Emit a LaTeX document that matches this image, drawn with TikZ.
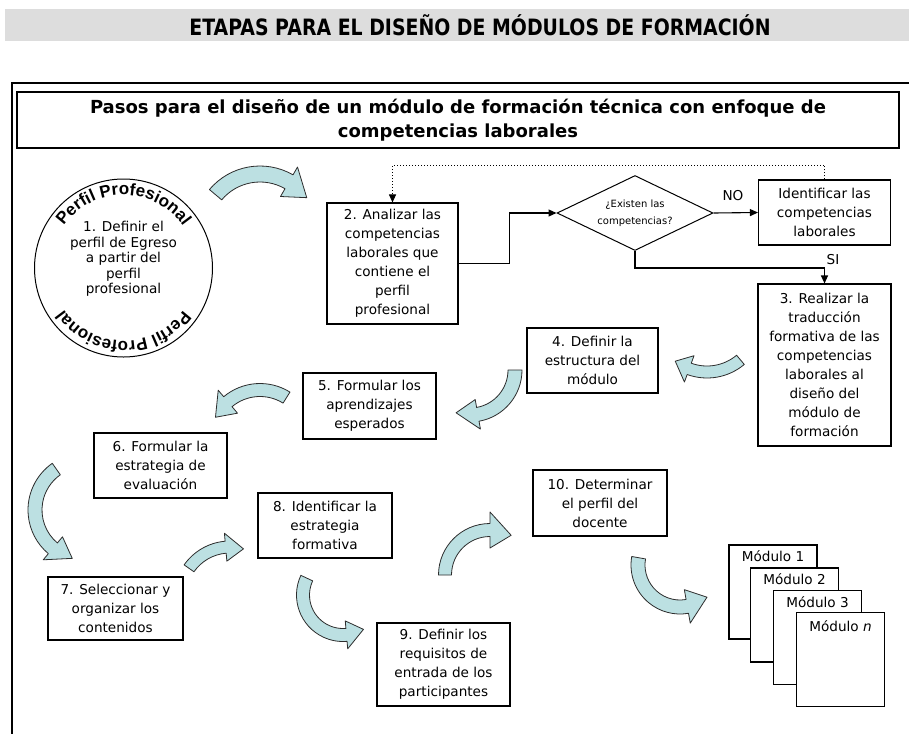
\documentclass[tikz,border=0pt]{standalone}
\usepackage{fontspec}
\setmainfont{DejaVu Sans}
\newfontfamily\arcfont{Liberation Sans}
\usetikzlibrary{shapes.geometric,arrows.meta,decorations.text,calc}
\definecolor{arrowfill}{RGB}{188,224,226}
\definecolor{titlegray}{RGB}{221,221,221}
\definecolor{edgegray}{RGB}{45,45,45}
\newcommand\blockarrow[8]{%
  \pgfmathsetmacro\BAro{#3+#6/2}%
  \pgfmathsetmacro\BAri{#3-#6/2}%
  \pgfmathsetmacro\BAho{#3+#7/2}%
  \pgfmathsetmacro\BAhi{#3-#7/2}%
  \pgfmathsetmacro\BAtip{#5+(2*(#5>#4)-1)*#8/#3*57.2958}%
  \draw[barrow] ($(#1,#2)+(#4:\BAro)$) arc[start angle=#4,end angle=#5,radius=\BAro]
     -- ($(#1,#2)+(#5:\BAho)$) -- ($(#1,#2)+(\BAtip:#3)$) -- ($(#1,#2)+(#5:\BAhi)$)
     -- ($(#1,#2)+(#5:\BAri)$) arc[start angle=#5,end angle=#4,radius=\BAri] -- cycle;}
\begin{document}
\begin{tikzpicture}[x=1pt,y=-1pt,
  stepbox/.style={draw=black, line width=1.1pt, align=center, inner sep=2pt, fill=white,
     font=\fontsize{13.6}{19}\selectfont},
  modbox/.style={draw=black, line width=1.1pt, fill=white, minimum width=88pt, minimum height=94pt, inner sep=0pt},
  modlbl/.style={font=\fontsize{13.6}{16}\selectfont, inner sep=0pt},
  barrow/.style={fill=arrowfill, draw=edgegray, line width=0.8pt, line join=round},
  conn/.style={line width=1.1pt, -{Triangle[length=8pt,width=7pt]}},
  dotconn/.style={line width=1pt, dash pattern=on 1pt off 2pt, -{Triangle[length=8pt,width=7pt]}},
  lbl/.style={font=\fontsize{13.6}{16}\selectfont, inner sep=0pt}]
\useasboundingbox (0,0) rectangle (909,734);
\fill[white] (0,0) rectangle (909,734);
% title band
\fill[titlegray] (5,9) rectangle (909,41);
\node (title) at (480,25) {\scalebox{0.84}[1]{\fontsize{22.5}{26}\selectfont\bfseries ETAPAS PARA EL DISEÑO DE MÓDULOS DE FORMACIÓN}};
% outer frame
\draw[line width=1.1pt] (909,83) -- (12,83) -- (12,734);
% subtitle box
\node[draw=black, line width=1.1pt, minimum width=882pt, minimum height=56pt, align=center,
  font=\bfseries\fontsize{18}{24}\selectfont] (sub) at (458,120)
  {Pasos para el diseño de un módulo de formación técnica con enfoque de\\competencias laborales};
% circle 1
\node[draw=black, line width=1pt, circle, minimum size=178pt, inner sep=0pt] (c1) at (123.5,268) {};
\node[align=center, font=\fontsize{13.6}{15.5}\selectfont, inner sep=0pt] (t1) at (123.5,259)
  {1. Definir el\\perfil de Egreso\\a partir del\\perfil\\profesional};
\path[decorate, decoration={text along path, text align=center,
   text={|\arcfont\bfseries\fontsize{17}{17}\selectfont|Perfil Profesional}}]
   ($(c1.center)+(195:73)$) arc[start angle=195, end angle=345, radius=73];
\path[decorate, decoration={text along path, text align=center,
   text={|\arcfont\bfseries\fontsize{17}{17}\selectfont|Perfil Profesional}}]
   ($(c1.center)+(15:73)$) arc[start angle=15, end angle=165, radius=73];
% boxes
\node[stepbox, minimum width=131pt, minimum height=121pt] (b2) at (392.5,263.5)
  {2. Analizar las\\competencias\\laborales que\\contiene el\\perfil\\profesional};
\node[draw=black, line width=1pt, diamond, aspect=2.08, minimum width=156pt, minimum height=75pt,
  inner sep=0pt, align=center, font=\fontsize{10}{17}\selectfont] (dq) at (635,213)
  {¿Existen las\\competencias?};
\node[stepbox, minimum width=132pt, minimum height=65pt] (idf) at (824.5,212.5)
  {Identificar las\\competencias\\laborales};
\node[stepbox, minimum width=133pt, minimum height=162pt] (b3) at (824.5,365)
  {3. Realizar la\\traducción\\formativa de las\\competencias\\laborales al\\diseño del\\módulo de\\formación};
\node[stepbox, minimum width=131pt, minimum height=65pt] (b4) at (592.5,360.5)
  {4. Definir la\\estructura del\\módulo};
\node[stepbox, minimum width=133pt, minimum height=66pt] (b5) at (369.5,406)
  {5. Formular los\\aprendizajes\\esperados};
\node[stepbox, minimum width=133pt, minimum height=65pt] (b6) at (160.5,465.5)
  {6. Formular la\\estrategia de\\evaluación};
\node[stepbox, minimum width=135pt, minimum height=63pt] (b7) at (115.5,608.5)
  {7. Seleccionar y\\organizar los\\contenidos};
\node[stepbox, minimum width=134pt, minimum height=65pt] (b8) at (325,525.5)
  {8. Identificar la\\estrategia\\formativa};
\node[stepbox, minimum width=133pt, minimum height=83pt] (b9) at (443.5,664.5)
  {9. Definir los\\requisitos de\\entrada de los\\participantes};
\node[stepbox, minimum width=134pt, minimum height=66pt] (b10) at (600,503)
  {10. Determinar\\el perfil del\\docente};
% connectors
\draw[conn] (b2.east) -- ++(51,0) |- (dq.west);
\draw[conn] (dq.east) -- (idf.west);
\draw[conn] (dq.south) -- ++(0,17) -| (b3.north);
\draw[dotconn] (idf.north) -- ++(0,-14) -| (b2.north);
\node[lbl] (no) at (733,196) {NO};
\node[lbl] (si) at (833,260) {SI};
% block arrows
\blockarrow{260}{232}{58}{220}{300}{16}{34}{24}
\blockarrow{707}{320}{52}{50}{110}{12}{28}{16}
\blockarrow{470}{370}{45}{0}{80}{14}{30}{22}
\blockarrow{260}{440}{50}{-58}{-130}{13}{30}{20}
\blockarrow{85}{510}{50}{235}{130}{14}{30}{22}
\blockarrow{230}{597}{50}{215}{265}{12}{28}{18}
\blockarrow{343}{595}{40}{205}{85}{13}{28}{18}
\blockarrow{490}{575}{45}{180}{270}{13}{36}{22}
\blockarrow{680}{565}{42}{190}{80}{14}{34}{22}
% module stack
\node[modbox] (m1) at (773,592) {};
\node[modlbl] (l1) at ([yshift=-12pt]m1.north) {Módulo 1};
\node[modbox] (m2) at (794.5,615) {};
\node[modlbl] (l2) at ([yshift=-12pt]m2.north) {Módulo 2};
\node[modbox] (m3) at (817.5,637.5) {};
\node[modlbl] (l3) at ([yshift=-12pt]m3.north) {Módulo 3};
\node[modbox] (mn) at (840.5,659.5) {};
\node[modlbl] (ln) at ([yshift=-14pt]mn.north) {Módulo \textit{n}};
\end{tikzpicture}
\end{document}
